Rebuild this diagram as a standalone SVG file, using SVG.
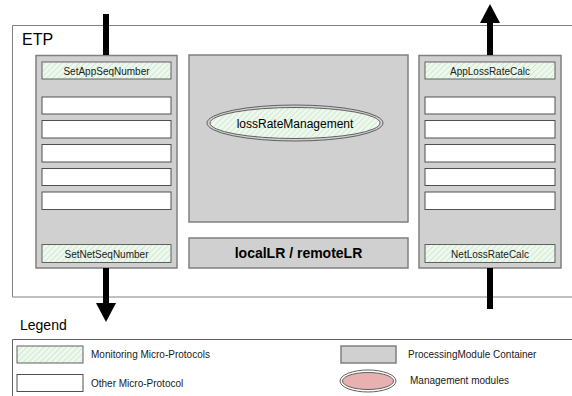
<svg xmlns="http://www.w3.org/2000/svg" width="572" height="396" viewBox="0 0 572 396">
<style>
.cont{fill:#d0d0d0;stroke:#808080;stroke-width:1.5}
.mon{fill:url(#hatch);stroke:#606060;stroke-width:1}
.oth{fill:#ffffff;stroke:#505050;stroke-width:1}
.lbl{font-family:"Liberation Sans",Arial,sans-serif;font-size:10px;fill:#202020;text-anchor:middle}
.leg{font-family:"Liberation Sans",Arial,sans-serif;font-size:10px;fill:#202020}
.big{font-family:"Liberation Sans",Arial,sans-serif;fill:#000}
.arrow{stroke:#000;stroke-width:6;fill:none}
</style>
<defs>
<pattern id="hatch" patternUnits="userSpaceOnUse" width="4" height="4" patternTransform="rotate(45)">
<rect width="4" height="4" fill="#eef8ee"/>
<line x1="0" y1="0" x2="0" y2="4" stroke="#c8e6c8" stroke-width="1.5"/>
</pattern>
<marker id="ah" markerUnits="userSpaceOnUse" markerWidth="20" markerHeight="20" refX="0" refY="10" orient="auto" viewBox="0 0 20 20">
<path d="M0,0 L19,10 L0,20 Z" fill="#000"/>
</marker>
</defs>
<rect width="572" height="396" fill="#fff"/>
<g id="etp">
<path d="M573,25.5 H12.5 V297 H573" fill="none" stroke="#808080" stroke-width="1"/>
<text class="big" x="22" y="45" font-size="16">ETP</text>
</g>
<g id="left-container">
<rect class="cont" x="36" y="55.5" width="141" height="212.5"/>
<rect class="mon" x="42" y="62" width="129" height="17"/>
<text class="lbl" x="106.5" y="74.5">SetAppSeqNumber</text>
<rect class="oth" x="42" y="97" width="129" height="17"/>
<rect class="oth" x="42" y="120.5" width="129" height="17.5"/>
<rect class="oth" x="42" y="144.5" width="129" height="17.5"/>
<rect class="oth" x="42" y="168.5" width="129" height="17"/>
<rect class="oth" x="42" y="192" width="129" height="17.5"/>
<rect class="mon" x="42" y="244.5" width="129" height="18"/>
<text class="lbl" x="106.5" y="257.5">SetNetSeqNumber</text>
</g>
<g id="middle-container">
<rect class="cont" x="189" y="55" width="219" height="167"/>
<ellipse cx="295" cy="123" rx="88" ry="18" fill="none" stroke="#606060" stroke-width="1"/>
<ellipse cx="295" cy="123" rx="85" ry="15.5" fill="url(#hatch)" stroke="#606060" stroke-width="1"/>
<text class="big" x="295" y="127.5" font-size="12" text-anchor="middle" fill="#202020">lossRateManagement</text>
</g>
<g id="local-remote">
<rect class="cont" x="189" y="238" width="219" height="30"/>
<text class="big" x="298.5" y="258" font-size="14" font-weight="bold" text-anchor="middle" fill="#202020">localLR / remoteLR</text>
</g>
<g id="right-container">
<rect class="cont" x="419" y="55.5" width="142" height="212.5"/>
<rect class="mon" x="425" y="62" width="130" height="17"/>
<text class="lbl" x="490" y="74.5">AppLossRateCalc</text>
<rect class="oth" x="425" y="97" width="130" height="17"/>
<rect class="oth" x="425" y="120.5" width="130" height="17.5"/>
<rect class="oth" x="425" y="144.5" width="130" height="17.5"/>
<rect class="oth" x="425" y="168.5" width="130" height="17"/>
<rect class="oth" x="425" y="192" width="130" height="17.5"/>
<rect class="mon" x="425" y="244.5" width="130" height="18"/>
<text class="lbl" x="490" y="257.5">NetLossRateCalc</text>
</g>
<g id="connectors">
<line class="arrow" x1="106" y1="14" x2="106" y2="55"/>
<line class="arrow" x1="106" y1="268" x2="106" y2="303" marker-end="url(#ah)"/>
<line class="arrow" x1="490" y1="55" x2="490" y2="23" marker-end="url(#ah)"/>
<line class="arrow" x1="490" y1="268" x2="490" y2="309"/>
</g>
<g id="legend">
<text class="big" x="20" y="330" font-size="14">Legend</text>
<path d="M573,339.5 H12.5 V397" fill="none" stroke="#606060" stroke-width="1"/>
<rect class="mon" x="17" y="346" width="66" height="17"/>
<text class="leg" x="91" y="358">Monitoring Micro-Protocols</text>
<rect class="oth" x="17" y="374.5" width="66" height="17"/>
<text class="leg" x="91" y="387">Other Micro-Protocol</text>
<rect class="cont" x="341" y="346" width="55" height="17"/>
<text class="leg" x="408" y="358">ProcessingModule Container</text>
<ellipse cx="368" cy="381" rx="28" ry="11" fill="none" stroke="#606060" stroke-width="1"/>
<ellipse cx="368" cy="381" rx="25.5" ry="8.5" fill="#e8b0b0" stroke="#606060" stroke-width="1"/>
<text class="leg" x="410" y="384">Management modules</text>
</g>
</svg>
